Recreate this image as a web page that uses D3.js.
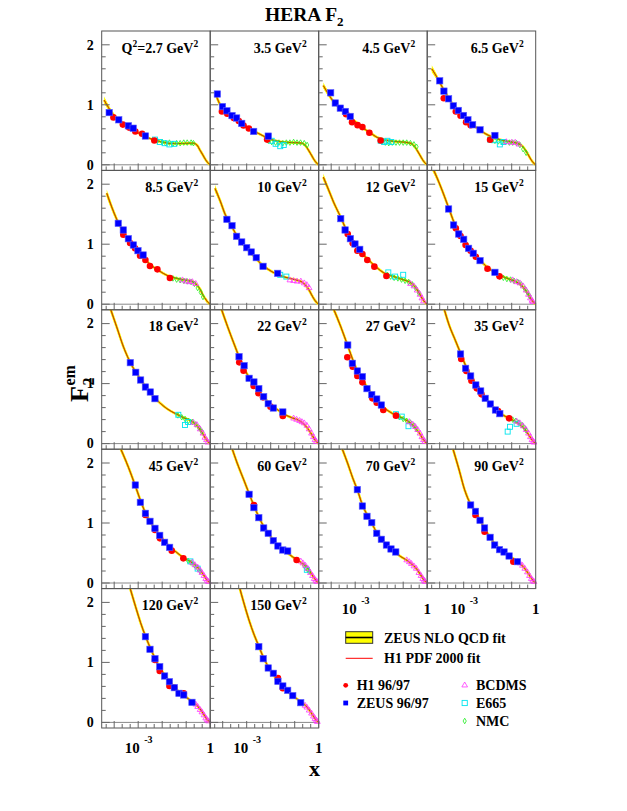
<!DOCTYPE html>
<html><head><meta charset="utf-8">
<script src="https://cdn.jsdelivr.net/npm/d3@7"></script>
<style>body{margin:0;background:#fff}svg{display:block}</style>
</head><body>
<script>
// ---------------- data ----------------
const q2Values = [2.7,3.5,4.5,6.5,8.5,10,12,15,18,22,27,35,45,60,70,90,120,150];

// fit curves per panel: [x, F2, band half-width (optional)]
const fitCurves = [
 [[3.8e-5,1.08,0.06],[6.3e-5,0.93,0.04],[1e-4,0.82,0.025],[2e-4,0.71],[4e-4,0.63],[7.9e-4,0.555],[2e-3,0.47],[5e-3,0.41],[0.01,0.38],[0.025,0.355],[0.063,0.355],[0.16,0.36],[0.2,0.36],[0.28,0.33],[0.38,0.24],[0.5,0.16],[0.63,0.09],[0.79,0.035],[1,0]],
 [[5.4e-5,1.15,0.05],[7.9e-5,1.0,0.035],[1.26e-4,0.92,0.02],[2.5e-4,0.81],[5e-4,0.71],[1e-3,0.63],[2e-3,0.56],[4e-3,0.5],[7.9e-3,0.44],[0.016,0.40],[0.04,0.375],[0.1,0.37],[0.2,0.36],[0.28,0.32],[0.38,0.24],[0.5,0.16],[0.63,0.09],[0.79,0.035],[1,0]],
 [[4.7e-5,1.32,0.05],[7.9e-5,1.17,0.035],[1.26e-4,1.05,0.02],[2.5e-4,0.93],[5e-4,0.82],[1e-3,0.72],[2e-3,0.62],[4e-3,0.54],[7.9e-3,0.46],[0.016,0.42],[0.04,0.39],[0.1,0.38],[0.2,0.36],[0.28,0.32],[0.38,0.24],[0.5,0.16],[0.63,0.09],[0.79,0.035],[1,0]],
 [[4.7e-5,1.6,0.06],[7.9e-5,1.45,0.04],[1.26e-4,1.3,0.025],[2.5e-4,1.1],[5e-4,0.92],[1e-3,0.8],[2e-3,0.69],[4e-3,0.6],[7.9e-3,0.52],[0.016,0.46],[0.04,0.41],[0.1,0.38],[0.2,0.35],[0.28,0.31],[0.38,0.24],[0.5,0.16],[0.63,0.09],[0.79,0.035],[1,0]],
 [[4.9e-5,1.85,0.06],[7.9e-5,1.62,0.04],[1.26e-4,1.42,0.025],[2.5e-4,1.2],[5e-4,1.0],[1e-3,0.87],[2e-3,0.74],[4e-3,0.63],[7.9e-3,0.55],[0.016,0.48],[0.04,0.43],[0.1,0.40],[0.2,0.37],[0.28,0.32],[0.38,0.25],[0.5,0.15],[0.63,0.09],[0.79,0.035],[1,0]],
 [[4.8e-5,1.93,0.06],[7.9e-5,1.72,0.04],[1.26e-4,1.5,0.025],[2.5e-4,1.28],[5e-4,1.07],[1e-3,0.93],[2e-3,0.8],[4e-3,0.67],[7.9e-3,0.58],[0.016,0.51],[0.04,0.45],[0.1,0.41],[0.2,0.37],[0.28,0.32],[0.38,0.25],[0.5,0.16],[0.63,0.09],[0.79,0.035],[1,0]],
 [[4.7e-5,2.12,0.06],[7.9e-5,1.9,0.04],[1.26e-4,1.7,0.025],[2.5e-4,1.45],[5e-4,1.18],[1e-3,0.99],[2e-3,0.84],[4e-3,0.72],[7.9e-3,0.61],[0.016,0.52],[0.04,0.46],[0.1,0.41],[0.2,0.36],[0.28,0.31],[0.38,0.24],[0.5,0.16],[0.63,0.09],[0.79,0.035],[1,0]],
 [[4.7e-5,2.3,0.06],[7.9e-5,2.1,0.04],[1.26e-4,1.9,0.025],[2.5e-4,1.58],[4e-4,1.36],[6.3e-4,1.2],[1e-3,1.08],[2e-3,0.91],[4e-3,0.77],[0.01,0.61],[0.032,0.48],[0.079,0.42],[0.16,0.37],[0.25,0.32],[0.35,0.25],[0.5,0.16],[0.63,0.09],[0.79,0.035],[1,0]],
 [[6.3e-5,2.3,0.05],[1.26e-4,1.95,0.035],[2.5e-4,1.6,0.02],[5e-4,1.33],[1e-3,1.13],[2e-3,0.95],[4e-3,0.8],[7.9e-3,0.68],[0.016,0.58],[0.04,0.49],[0.079,0.43],[0.16,0.38],[0.25,0.32],[0.35,0.25],[0.5,0.16],[0.63,0.09],[0.79,0.035],[1,0]],
 [[7.9e-5,2.3,0.05],[1.6e-4,1.95,0.035],[3.2e-4,1.63,0.02],[6.3e-4,1.33],[1.26e-3,1.1],[2.5e-3,0.92],[5e-3,0.78],[0.01,0.65],[0.02,0.56],[0.04,0.48],[0.079,0.43],[0.16,0.38],[0.25,0.32],[0.35,0.25],[0.5,0.16],[0.63,0.09],[0.79,0.035],[1,0]],
 [[1.1e-4,2.3,0.05],[2.5e-4,1.95,0.035],[5e-4,1.62,0.02],[7.9e-4,1.4],[1.26e-3,1.2],[2e-3,1.06],[3.2e-3,0.94],[5e-3,0.82],[7.9e-3,0.72],[0.0126,0.63],[0.025,0.54],[0.05,0.47],[0.1,0.42],[0.16,0.37],[0.25,0.31],[0.35,0.24],[0.5,0.16],[0.63,0.09],[0.79,0.035],[1,0]],
 [[1.4e-4,2.3,0.05],[2.5e-4,1.97,0.035],[4.5e-4,1.72,0.02],[7.9e-4,1.48],[1.26e-3,1.28],[2e-3,1.12],[3.2e-3,0.98],[5e-3,0.87],[7.9e-3,0.76],[0.0126,0.67],[0.02,0.58],[0.032,0.51],[0.063,0.44],[0.126,0.38],[0.2,0.33],[0.32,0.26],[0.45,0.18],[0.63,0.09],[0.79,0.035],[1,0]],
 [[1.4e-4,2.35,0.05],[4e-4,1.92,0.03],[7.9e-4,1.6],[1.26e-3,1.37],[2e-3,1.17],[3.2e-3,1.02],[5e-3,0.9],[7.9e-3,0.79],[0.0126,0.69],[0.02,0.61],[0.04,0.51],[0.079,0.42],[0.16,0.35],[0.25,0.29],[0.35,0.23],[0.5,0.15],[0.63,0.09],[0.79,0.035],[1,0]],
 [[2e-4,2.35,0.05],[4e-4,2.0,0.03],[7.9e-4,1.7],[1.26e-3,1.49],[2e-3,1.29],[3.2e-3,1.1],[5e-3,0.95],[7.9e-3,0.83],[0.0126,0.72],[0.02,0.63],[0.032,0.56],[0.05,0.5],[0.079,0.44],[0.126,0.39],[0.2,0.33],[0.32,0.26],[0.45,0.18],[0.63,0.09],[0.79,0.035],[1,0]],
 [[2.5e-4,2.3,0.05],[5e-4,1.98,0.03],[7.9e-4,1.75],[1.26e-3,1.54],[2e-3,1.3],[3.2e-3,1.13],[5e-3,0.99],[7.9e-3,0.84],[0.0126,0.73],[0.02,0.64],[0.032,0.57],[0.05,0.5],[0.079,0.44],[0.14,0.38],[0.22,0.32],[0.32,0.26],[0.45,0.18],[0.63,0.09],[0.79,0.035],[1,0]],
 [[3.2e-4,2.3,0.05],[6.3e-4,1.9,0.03],[1.1e-3,1.55],[2e-3,1.3],[3.2e-3,1.17],[5e-3,1.03],[7.9e-3,0.89],[0.0126,0.76],[0.02,0.65],[0.032,0.57],[0.05,0.51],[0.079,0.45],[0.126,0.4],[0.2,0.34],[0.32,0.26],[0.45,0.18],[0.63,0.09],[0.79,0.035],[1,0]],
 [[4e-4,2.32,0.05],[7.9e-4,1.92,0.03],[1.26e-3,1.66],[2e-3,1.44],[3.2e-3,1.24],[5e-3,1.07],[7.9e-3,0.92],[0.0126,0.79],[0.02,0.68],[0.032,0.59],[0.05,0.51],[0.079,0.45],[0.126,0.39],[0.2,0.33],[0.32,0.26],[0.45,0.18],[0.63,0.09],[0.79,0.035],[1,0]],
 [[4.5e-4,2.32,0.05],[7.9e-4,1.97,0.03],[1.26e-3,1.7],[2e-3,1.47],[3.2e-3,1.27],[5e-3,1.08],[7.9e-3,0.93],[0.0126,0.8],[0.02,0.7],[0.032,0.6],[0.05,0.52],[0.079,0.45],[0.126,0.39],[0.2,0.33],[0.32,0.26],[0.45,0.18],[0.63,0.09],[0.79,0.035],[1,0]]
];

const h1Data = [
 [[9.3e-5,0.79],[2.3e-4,0.67],[4.2e-4,0.62],[7.6e-4,0.556],[1.45e-3,0.517],[4.7e-3,0.405]],
 [[9.3e-5,0.89],[1.55e-4,0.85],[2.9e-4,0.78],[4.7e-4,0.73],[7.4e-4,0.656],[1.23e-3,0.606],[7.1e-3,0.42]],
 [[4.2e-4,0.844],[7.4e-4,0.711],[1.26e-3,0.661],[2.0e-3,0.628],[3.9e-3,0.533],[0.0115,0.406]],
 [[1.48e-4,1.11],[4.7e-4,0.889],[7.4e-4,0.817],[1.26e-3,0.711],[1.95e-3,0.661],[0.0126,0.417]],
 [[2.4e-4,1.159],[4.6e-4,1.02],[7.4e-4,0.931],[1.2e-3,0.809],[2.0e-3,0.737],[3.1e-3,0.637],[6.3e-3,0.581],[0.021,0.437]],
 [],
 [[4.9e-4,1.17],[7.9e-4,1.014],[1.23e-3,0.892],[2.0e-3,0.837],[3.2e-3,0.737],[6.3e-3,0.626],[0.02,0.47]],
 [[4.7e-4,1.264],[7.4e-4,1.137],[1.2e-3,0.987],[1.95e-3,0.892],[3.2e-3,0.792],[9.8e-3,0.592],[0.031,0.464]],
 [],
 [[4.9e-4,1.354],[7.4e-4,1.216],[1.95e-3,0.96],[3.1e-3,0.838],[4.8e-3,0.771],[9.8e-3,0.616],[0.032,0.46]],
 [[4.7e-4,1.438],[7.9e-4,1.282],[1.23e-3,1.127],[2.0e-3,1.021],[5.2e-3,0.754],[7.9e-3,0.682],[0.0148,0.56],[0.05,0.466]],
 [[7.9e-4,1.41],[1.29e-3,1.21],[2.1e-3,1.049],[3.5e-3,0.921],[5.5e-3,0.821],[0.027,0.543],[0.078,0.421]],
 [[2.0e-3,1.133],[5e-3,0.883],[8.1e-3,0.744],[0.025,0.539],[0.076,0.411]],
 [[2.0e-3,1.3],[0.12,0.383]],
 [],
 [[3.1e-3,1.133],[7.4e-3,0.856],[0.117,0.356]],
 [[5e-3,1.04],[7.9e-3,0.857],[0.02,0.607],[0.032,0.579],[0.079,0.484]],
 [[0.02,0.74],[0.032,0.57]]
];

const zeusData = [
 [[6.2e-5,0.87],[1.55e-4,0.75],[3.9e-4,0.65],[6.2e-4,0.61],[2.0e-3,0.48]],
 [[6.0e-5,1.18],[9.8e-5,0.97],[1.5e-4,0.90],[2.45e-4,0.82],[3.8e-4,0.78],[6.2e-4,0.69],[1.95e-3,0.556],[7.9e-3,0.478]],
 [[9.5e-5,1.2],[1.48e-4,1.03],[2.4e-4,0.944],[3.9e-4,0.889],[6.2e-4,0.806]],
 [[1e-4,1.4],[1.5e-4,1.228],[2.35e-4,1.1],[3.7e-4,0.983],[6.0e-4,0.906],[9.8e-4,0.822],[1.5e-3,0.75],[2.35e-3,0.667],[4.8e-3,0.583],[0.02,0.489]],
 [[1.48e-4,1.348],[2.4e-4,1.237],[3.9e-4,1.092],[6.3e-4,0.987],[9.8e-4,0.892],[1.6e-3,0.82]],
 [[1.5e-4,1.414],[2.45e-4,1.309],[3.8e-4,1.131],[6.2e-4,1.037],[1e-3,0.942],[1.55e-3,0.87],[2.5e-3,0.776],[4.8e-3,0.631],[0.0195,0.514]],
 [[2.5e-4,1.426],[3.8e-4,1.237],[6.3e-4,1.092],[9.8e-4,1.003],[1.55e-3,0.914]],
 [[2.35e-4,1.587],[3.8e-4,1.32],[6.2e-4,1.17],[1e-3,1.081],[1.6e-3,0.931],[2.5e-3,0.848],[4.8e-3,0.726],[0.02,0.531]],
 [[4.7e-4,1.349],[7.9e-4,1.188],[1.26e-3,1.06],[2.0e-3,0.943],[3.2e-3,0.86],[5e-3,0.749]],
 [[4.8e-4,1.449],[7.8e-4,1.299],[1.26e-3,1.088],[2.0e-3,1.027],[3.2e-3,0.916],[5.1e-3,0.782],[7.9e-3,0.666],[0.0129,0.593],[0.032,0.527]],
 [[4.9e-4,1.643],[7.6e-4,1.338],[1.23e-3,1.21],[2.0e-3,1.116],[3.1e-3,0.916],[4.9e-3,0.816],[7.9e-3,0.743],[0.0123,0.643]],
 [[7.4e-4,1.493],[1.2e-3,1.254],[1.95e-3,1.127],[3.2e-3,0.977],[5.1e-3,0.877],[7.9e-3,0.754],[0.0129,0.66],[0.021,0.56],[0.032,0.499]],
 [[7.6e-4,1.633],[1.23e-3,1.344],[2.0e-3,1.161],[3.1e-3,1.028],[5e-3,0.911],[7.9e-3,0.794],[0.0126,0.678],[0.0204,0.594]],
 [[1.26e-3,1.478],[2.0e-3,1.256],[3.2e-3,1.089],[5.1e-3,0.917],[7.9e-3,0.828],[0.0129,0.706],[0.02,0.617],[0.032,0.55],[0.051,0.533]],
 [[1.23e-3,1.556],[2.0e-3,1.283],[3.1e-3,1.111],[4.9e-3,1.006],[7.9e-3,0.828],[0.0123,0.728],[0.02,0.633],[0.031,0.567],[0.049,0.517]],
 [[1.95e-3,1.3],[3.1e-3,1.194],[4.8e-3,1.044],[7.4e-3,0.917],[0.0126,0.761],[0.0195,0.633],[0.031,0.556],[0.048,0.517],[0.078,0.45],[0.174,0.356]],
 [[2.0e-3,1.429],[3.1e-3,1.218],[5e-3,1.062],[7.9e-3,0.929],[0.0126,0.773],[0.02,0.679],[0.032,0.579],[0.05,0.484],[0.079,0.457],[0.174,0.334]],
 [[3.2e-3,1.262],[4.9e-3,1.062],[7.9e-3,0.907],[0.0129,0.818],[0.02,0.684],[0.032,0.607],[0.051,0.534],[0.083,0.446],[0.178,0.329]]
];

const e665Data = [
 [[5e-3,0.42],[7.9e-3,0.38],[0.0126,0.36],[0.02,0.34],[0.032,0.35]],
 [[8e-3,0.47],[0.011,0.40],[0.016,0.35],[0.025,0.31],[0.035,0.33]],
 [[0.0115,0.40],[0.016,0.38],[0.022,0.40],[0.032,0.38]],
 [[0.0126,0.42],[0.018,0.41],[0.032,0.34],[0.045,0.38]],
 [],
 [[0.025,0.49],[0.045,0.46]],
 [[0.024,0.53],[0.046,0.46],[0.1,0.49]],
 [],
 [[0.047,0.48],[0.089,0.31],[0.12,0.36]],
 [],
 [[0.05,0.49],[0.087,0.45],[0.166,0.29]],
 [[0.068,0.2],[0.085,0.28],[0.16,0.33]],
 [[0.15,0.36],[0.3,0.24]],
 [[0.32,0.22]],
 [],[],[],[]
];

const nmcData = [
 [[6.3e-3,0.40],[0.01,0.38],[0.014,0.36],[0.02,0.37],[0.028,0.35],[0.04,0.36],[0.056,0.36],[0.079,0.37],[0.11,0.37],[0.16,0.37],[0.2,0.36]],
 [[0.008,0.40],[0.011,0.38],[0.016,0.37],[0.022,0.37],[0.032,0.36],[0.045,0.37],[0.063,0.37],[0.09,0.38],[0.125,0.37],[0.175,0.37],[0.25,0.36],[0.33,0.33]],
 [[0.013,0.39],[0.018,0.37],[0.025,0.36],[0.035,0.37],[0.05,0.37],[0.07,0.37],[0.1,0.37],[0.14,0.37],[0.2,0.36],[0.28,0.34],[0.36,0.30]],
 [[0.014,0.43],[0.02,0.40],[0.028,0.39],[0.04,0.38],[0.056,0.38],[0.08,0.37],[0.11,0.37],[0.16,0.36],[0.22,0.33],[0.3,0.26],[0.4,0.2]],
 [[0.021,0.44],[0.028,0.43],[0.04,0.41],[0.056,0.40],[0.08,0.39],[0.11,0.38],[0.16,0.37],[0.22,0.34],[0.3,0.27],[0.4,0.20],[0.5,0.12]],
 [],
 [[0.022,0.49],[0.03,0.46],[0.042,0.44],[0.06,0.43],[0.085,0.41],[0.12,0.39],[0.17,0.37],[0.24,0.33],[0.33,0.27],[0.45,0.19]],
 [[0.032,0.46],[0.045,0.44],[0.063,0.42],[0.09,0.41],[0.125,0.39],[0.18,0.37],[0.25,0.33],[0.35,0.26],[0.45,0.2],[0.55,0.14]],
 [[0.045,0.47],[0.065,0.44],[0.09,0.41],[0.125,0.38],[0.18,0.36],[0.25,0.32],[0.35,0.26],[0.45,0.2]],
 [],
 [[0.05,0.47],[0.07,0.44],[0.1,0.41],[0.14,0.38],[0.2,0.35],[0.28,0.3],[0.36,0.24]],
 [[0.08,0.43],[0.11,0.40],[0.15,0.38],[0.2,0.35],[0.27,0.31],[0.35,0.26],[0.4,0.22]],
 [[0.12,0.37],[0.16,0.34],[0.22,0.3],[0.3,0.25],[0.38,0.2]],
 [[0.25,0.29],[0.3,0.25],[0.35,0.22],[0.4,0.2]],
 [],[],[],[]
];

const bcdmsData = [
 [],[],[],
 [[0.06,0.38],[0.1,0.37],[0.14,0.37],[0.2,0.34]],
 [[0.07,0.40],[0.1,0.38],[0.14,0.37],[0.18,0.37],[0.25,0.34]],
 [[0.063,0.40],[0.09,0.39],[0.125,0.38],[0.18,0.38],[0.25,0.35],[0.32,0.32],[0.4,0.27]],
 [[0.2,0.34],[0.28,0.3],[0.38,0.23],[0.5,0.16],[0.6,0.1],[0.7,0.05]],
 [[0.11,0.40],[0.16,0.37],[0.22,0.35],[0.3,0.3],[0.4,0.23],[0.5,0.16],[0.6,0.1],[0.7,0.06],[0.75,0.04]],
 [[0.2,0.35],[0.28,0.31],[0.38,0.24],[0.5,0.17],[0.6,0.1],[0.7,0.06],[0.8,0.02]],
 [[0.09,0.42],[0.12,0.40],[0.16,0.38],[0.2,0.36],[0.25,0.34],[0.32,0.3],[0.4,0.24],[0.5,0.17],[0.6,0.11],[0.7,0.06],[0.8,0.03]],
 [[0.18,0.36],[0.25,0.32],[0.32,0.28],[0.4,0.23],[0.5,0.17],[0.6,0.11],[0.7,0.06],[0.8,0.03]],
 [[0.16,0.37],[0.22,0.34],[0.3,0.29],[0.4,0.23],[0.5,0.17],[0.6,0.11],[0.7,0.06],[0.8,0.03],[0.85,0.02]],
 [[0.18,0.34],[0.23,0.3],[0.3,0.26],[0.38,0.21],[0.45,0.17],[0.55,0.12],[0.65,0.07],[0.75,0.04],[0.85,0.02]],
 [[0.18,0.36],[0.22,0.33],[0.28,0.29],[0.35,0.24],[0.45,0.17],[0.55,0.12],[0.65,0.07],[0.75,0.04],[0.85,0.02]],
 [[0.14,0.38],[0.18,0.35],[0.22,0.32],[0.28,0.28],[0.35,0.24],[0.45,0.17],[0.55,0.12],[0.65,0.07],[0.75,0.04],[0.82,0.02]],
 [[0.18,0.36],[0.22,0.33],[0.28,0.29],[0.35,0.24],[0.45,0.18],[0.55,0.12],[0.65,0.07],[0.75,0.04],[0.85,0.02]],
 [[0.2,0.33],[0.25,0.3],[0.3,0.26],[0.38,0.21],[0.45,0.17],[0.55,0.12],[0.65,0.07],[0.75,0.04],[0.85,0.02]],
 [[0.27,0.28],[0.32,0.25],[0.4,0.2],[0.5,0.15],[0.6,0.1],[0.7,0.06],[0.8,0.03],[0.88,0.01]]
];

const yTickLabels = [0, 1, 2];
const xTickLabels = [{v:1e-3, base:"10", exp:"-3"}, {v:1, base:"1", exp:""}];
const legendFits = ["ZEUS NLO QCD fit", "H1 PDF 2000 fit"];
const legendData = [["H1 96/97","h1"],["ZEUS 96/97","zeus"],["BCDMS","bcdms"],["E665","e665"],["NMC","nmc"]];

// ---------------- drawing ----------------
const W = 627, H = 811;
const L0 = 101.7, T0 = 31, PW = 108.5, PH = 139.4;
const serif = "'Liberation Serif','Times New Roman',serif";
const frameCol = "#555", tickCol = "#666";

const svg = d3.select("body").append("svg").attr("width", W).attr("height", H)
  .style("font-family", serif).style("font-weight", "bold");

svg.append("defs").append("clipPath").attr("id","pclip")
  .append("rect").attr("x",0).attr("y",0).attr("width",PW).attr("height",PH);

const x = d3.scaleLog().domain([Math.pow(10,-4.52), 1]).range([0, PW]);
const y = d3.scaleLinear().domain([-0.0933, 2.23]).range([PH, 0]);

const xMinorTicks = d3.range(-13, 1).map(k => Math.pow(10, k/3)).filter(v => v >= x.domain()[0]);
const yMinorTicks = d3.range(0, 11).map(k => k*0.2);

const symTri = d3.symbol().type(d3.symbolTriangle).size(14);
const symDia = d3.symbol().type(d3.symbolDiamond).size(9);

function origin(i){
  return i < 16 ? [L0 + (i%4)*PW, T0 + Math.floor(i/4)*PH] : [L0 + (i-16)*PW, T0 + 4*PH];
}

const line = d3.line().x(d=>x(d[0])).y(d=>y(d[1])).curve(d3.curveMonotoneX);
const band = d3.area().x(d=>x(d[0]))
  .y0(d=>y(d[1]-(d[2]!==undefined?d[2]:0.012)))
  .y1(d=>y(d[1]+(d[2]!==undefined?d[2]:0.012)))
  .curve(d3.curveMonotoneX);

q2Values.forEach((q, i) => {
  const [ox, oy] = origin(i);
  const g = svg.append("g").attr("transform", `translate(${ox},${oy})`);
  const gc = g.append("g").attr("clip-path","url(#pclip)");

  // zero line
  gc.append("line").attr("x1",0).attr("x2",PW).attr("y1",y(0)).attr("y2",y(0))
    .attr("stroke","#888").attr("stroke-width",1);

  const c = fitCurves[i];
  gc.append("path").attr("d", band(c)).attr("fill","#ffff00").attr("stroke","none");
  gc.append("path").attr("d", line(c)).attr("fill","none").attr("stroke","#ffee00").attr("stroke-width",2.6);
  gc.append("path").attr("d", line(c)).attr("fill","none").attr("stroke","#000").attr("stroke-width",0.6);
  gc.append("path").attr("d", line(c)).attr("fill","none").attr("stroke","#ff3000").attr("stroke-width",0.9).attr("opacity",0.75);

  // fixed-target data
  g.selectAll(".nmc").data(nmcData[i]).enter().append("path")
    .attr("transform", d=>`translate(${x(d[0])},${y(d[1])})`).attr("d", symDia)
    .attr("fill","none").attr("stroke","#22ee22").attr("stroke-width",0.8);
  g.selectAll(".e665").data(e665Data[i]).enter().append("rect")
    .attr("x", d=>x(d[0])-2.5).attr("y", d=>y(d[1])-2.5).attr("width",5).attr("height",5)
    .attr("fill","none").attr("stroke","#00e5ee").attr("stroke-width",0.9);
  g.selectAll(".bcdms").data(bcdmsData[i]).enter().append("path")
    .attr("transform", d=>`translate(${x(d[0])},${y(d[1])})`).attr("d", symTri)
    .attr("fill","none").attr("stroke","#ff33ff").attr("stroke-width",0.8);

  // HERA data
  g.selectAll(".h1").data(h1Data[i]).enter().append("circle")
    .attr("cx", d=>x(d[0])).attr("cy", d=>y(d[1])).attr("r",3.3).attr("fill","#ff0000");
  g.selectAll(".zeus").data(zeusData[i]).enter().append("rect")
    .attr("x", d=>x(d[0])-3.2).attr("y", d=>y(d[1])-3.2).attr("width",6.4).attr("height",6.4)
    .attr("fill","#0000ff").attr("stroke","#5a5aff").attr("stroke-width",0.6);

  // frame
  g.append("rect").attr("x",0).attr("y",0).attr("width",PW).attr("height",PH)
    .attr("fill","none").attr("stroke",frameCol).attr("stroke-width",1);

  // y ticks
  g.selectAll(".yt").data(yMinorTicks).enter().append("line")
    .attr("x1",0).attr("x2", d => (Math.abs(d-Math.round(d))<1e-6) ? 8 : 4)
    .attr("y1", d=>y(d)).attr("y2", d=>y(d)).attr("stroke",tickCol).attr("stroke-width",1);
  // x ticks
  g.selectAll(".xt").data(xMinorTicks).enter().append("line")
    .attr("x1", d=>x(d)).attr("x2", d=>x(d))
    .attr("y1", PH).attr("y2", d => (Math.abs(Math.log10(d)-Math.round(Math.log10(d)))<1e-6) ? PH-7 : PH-4)
    .attr("stroke",tickCol).attr("stroke-width",1);

  // y tick labels (first column)
  if (i % 4 === 0 || i === 16) {
    g.selectAll(".yl").data(yTickLabels).enter().append("text")
      .attr("x",-8).attr("y", d=>y(d)).attr("dy","0.35em").attr("text-anchor","end")
      .attr("font-size",14).text(d=>d);
  }
  // x tick labels (bottom panels)
  if (i >= 14) {
    xTickLabels.forEach(t => {
      const tx = x(t.v);
      if (t.exp) {
        g.append("text").attr("x", tx+1.5).attr("y", PH+25).attr("text-anchor","end")
          .attr("font-size",15).text(t.base);
        g.append("text").attr("x", tx+6).attr("y", PH+15.5).attr("text-anchor","start")
          .attr("font-size",10).text(t.exp);
      } else {
        g.append("text").attr("x", tx).attr("y", PH+25).attr("text-anchor","middle")
          .attr("font-size",15).text(t.base);
      }
    });
  }

  // Q2 label
  const t = g.append("text").attr("x", PW-12).attr("y", 21.5).attr("text-anchor","end").attr("font-size",14);
  if (i === 0) {
    t.append("tspan").text("Q");
    t.append("tspan").attr("font-size",9.5).attr("dy",-6).text("2");
    t.append("tspan").attr("dy",6).text("=" + q + " GeV");
  } else {
    t.append("tspan").text(q + " GeV");
  }
  t.append("tspan").attr("font-size",9.5).attr("dy",-6).text("2");
});

// title
const title = svg.append("text").attr("x",265).attr("y",21).attr("font-size",19.5);
title.append("tspan").text("HERA F");
title.append("tspan").attr("font-size",13).attr("dy",5).text("2");

// y axis title
const yt = svg.append("g").attr("transform","translate(88,402) rotate(-90)");
yt.append("text").attr("x",0).attr("y",0).attr("font-size",26).text("F");
yt.append("text").attr("x",16.5).attr("y",6).attr("font-size",16).text("2");
yt.append("text").attr("x",16.5).attr("y",-13).attr("font-size",16).text("em");

// x axis title
svg.append("text").attr("x",320).attr("y",776).attr("text-anchor","end").attr("font-size",22).text("x");

// legend
const lg = svg.append("g");
lg.append("rect").attr("x",345.7).attr("y",631.7).attr("width",27).attr("height",11.6)
  .attr("fill","#ffff00").attr("stroke","#333").attr("stroke-width",1);
lg.append("line").attr("x1",345.7).attr("x2",372.7).attr("y1",637.5).attr("y2",637.5)
  .attr("stroke","#000").attr("stroke-width",1.6);
lg.append("line").attr("x1",345.7).attr("x2",372.7).attr("y1",658.3).attr("y2",658.3)
  .attr("stroke","#ff0000").attr("stroke-width",1);
lg.append("text").attr("x",384).attr("y",643).attr("font-size",14).text(legendFits[0]);
lg.append("text").attr("x",384).attr("y",663).attr("font-size",14).text(legendFits[1]);

const legPos = {h1:[345.7,685.3,356.7,690], zeus:[345.7,703,356.7,708], bcdms:[464.7,685.3,476,690], e665:[464.7,703,476,708], nmc:[464.7,721,476,726]};
legendData.forEach(([label,key]) => {
  const [mx,my,tx,ty] = legPos[key];
  if (key==="h1") lg.append("circle").attr("cx",mx).attr("cy",my).attr("r",2.4).attr("fill","#ff0000");
  if (key==="zeus") lg.append("rect").attr("x",mx-2.4).attr("y",my-2.4).attr("width",4.8).attr("height",4.8).attr("fill","#0000ff");
  if (key==="bcdms") lg.append("path").attr("transform",`translate(${mx},${my})`).attr("d",symTri)
      .attr("fill","none").attr("stroke","#ff33ff").attr("stroke-width",0.8);
  if (key==="e665") lg.append("rect").attr("x",mx-2.6).attr("y",my-2.6).attr("width",5.2).attr("height",5.2)
      .attr("fill","none").attr("stroke","#00e5ee").attr("stroke-width",0.9);
  if (key==="nmc") lg.append("path").attr("transform",`translate(${mx},${my})`).attr("d",symDia)
      .attr("fill","none").attr("stroke","#22ee22").attr("stroke-width",0.8);
  lg.append("text").attr("x",tx).attr("y",ty).attr("font-size",14).text(label);
});
</script>
</body></html>
